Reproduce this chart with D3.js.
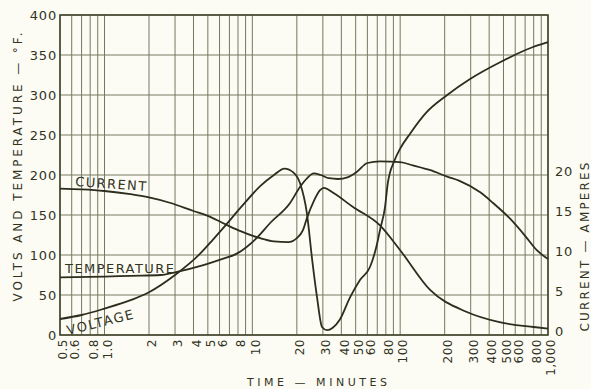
<!DOCTYPE html>
<html>
<head>
<meta charset="utf-8">
<script src="https://cdn.jsdelivr.net/npm/d3@7"></script>
<style>
  body { margin: 0; background: #fcfcf4; }
  svg { display: block; }
  text { font-family: "DejaVu Sans", sans-serif; fill: #33341f; }
</style>
</head>
<body>
<svg></svg>
<script>
//Canvas settings
var width = 591;
var height = 389;
var plotL = 60, plotR = 548, plotT = 15, plotB = 335;

//Time grid and labels (minutes, log scale)
var gridTimes = [0.5, 0.6, 0.7, 0.8, 0.9, 1, 2, 3, 4, 5, 6, 7, 8, 9, 10,
  20, 30, 40, 50, 60, 70, 80, 90, 100, 200, 300, 400, 500, 600, 700, 800, 900, 1000];
var labelTimes = [0.5, 0.6, 0.8, 1, 2, 3, 4, 5, 6, 8, 10, 20, 30, 40, 50, 60, 80, 100,
  200, 300, 400, 500, 600, 800, 1000];
var labelTexts = ["0.5", "0.6", "0.8", "1.0", "2", "3", "4", "5", "6", "8", "10", "20", "30",
  "40", "50", "60", "80", "100", "200", "300", "400", "500", "600", "800", "1,000"];

//Left axis (volts / deg F) and right axis (amperes)
var leftTicks = [0, 50, 100, 150, 200, 250, 300, 350, 400];
var ampTicks = [0, 5, 10, 15, 20];

//Current, in amperes
var currentTime = [0.5, 0.7, 1, 1.5, 2, 2.8, 4, 5, 6.3, 8, 11.3, 14, 17.5, 20, 22, 23.5, 26, 28.7, 30.5,
  35, 48, 73, 100, 160, 280, 470, 800, 1000];
var currentAmps = [18.3, 18.2, 18.0, 17.6, 17.2, 16.5, 15.5, 14.9, 14.0, 13.1, 12.1, 11.7, 11.6, 12.1, 13.1,
  14.7, 16.7, 18.1, 18.4, 17.8, 16.0, 13.7, 10.6, 5.6, 2.9, 1.6, 1.0, 0.8];

//Temperature, deg F
var tempTime = [0.5, 1, 1.5, 2.4, 3.1, 4.6, 6, 7.9, 10.8, 13.2, 18, 21, 23.5, 26, 29, 33, 38, 44, 51, 60,
  73, 100, 122, 160, 208, 250, 350, 425, 550, 700, 840, 1000];
var tempValues = [72, 73, 74, 75, 79, 87, 94, 102, 122, 140, 165, 185, 196, 202, 200, 196, 195, 197, 204, 215,
  217, 216, 212, 206, 198, 193, 178, 165, 146, 124, 106, 95];

//Voltage
var voltTime = [0.5, 0.7, 1, 1.5, 2, 3, 4.4, 5.4, 6.3, 8.5, 11.3, 14, 16.5, 19, 21, 23.4, 25.4, 27.4, 29.6, 32, 35,
  39, 45.8, 53.6, 62.5, 70, 73, 79, 82.5, 92, 100, 117, 150, 208, 297, 474, 793, 1000];
var voltValues = [20, 25, 33, 43.5, 53.5, 75, 101, 119, 133, 161, 186, 200, 208, 203, 190, 152, 94, 47, 10, 6, 9,
  19, 47, 69, 85, 115, 131, 160, 190, 219, 233, 252, 278, 300, 320, 341, 360, 366];

var canvas = d3.select("svg")
  .attr("width", width)
  .attr("height", height);

canvas.append("rect")
  .attr("width", width).attr("height", height)
  .attr("fill", "#fcfcf4");

var x = d3.scaleLog().domain([0.5, 1000]).range([plotL, plotR]);
var y = d3.scaleLinear().domain([0, 400]).range([plotB, plotT]);
var yAmp = d3.scaleLinear().domain([0, 20]).range([plotB, y(200)]);

//grid
canvas.append("g").selectAll("line")
  .data(gridTimes)
  .enter().append("line")
  .attr("x1", function(d) { return x(d); })
  .attr("x2", function(d) { return x(d); })
  .attr("y1", plotT).attr("y2", plotB)
  .attr("stroke", "#77785f").attr("stroke-width", 1);

canvas.append("g").selectAll("line")
  .data(leftTicks)
  .enter().append("line")
  .attr("x1", plotL).attr("x2", plotR)
  .attr("y1", function(d) { return y(d); })
  .attr("y2", function(d) { return y(d); })
  .attr("stroke", "#77785f").attr("stroke-width", 1);

canvas.append("rect")
  .attr("x", plotL).attr("y", plotT)
  .attr("width", plotR - plotL).attr("height", plotB - plotT)
  .attr("fill", "none").attr("stroke", "#45462f").attr("stroke-width", 1.6);

//left tick labels
canvas.append("g").selectAll("text")
  .data(leftTicks)
  .enter().append("text")
  .attr("x", plotL - 3)
  .attr("y", function(d) { return y(d); })
  .attr("dy", "0.36em")
  .attr("text-anchor", "end")
  .attr("font-size", 13)
  .attr("letter-spacing", 0.8)
  .text(function(d) { return d; });

//right tick labels
canvas.append("g").selectAll("text")
  .data(ampTicks)
  .enter().append("text")
  .attr("x", plotR + 7)
  .attr("y", function(d) { return yAmp(d) - 4; })
  .attr("dy", "0.36em")
  .attr("text-anchor", "start")
  .attr("font-size", 13)
  .attr("letter-spacing", 0.8)
  .text(function(d) { return d; });

//time labels, rotated
canvas.append("g").selectAll("text")
  .data(labelTimes)
  .enter().append("text")
  .attr("transform", function(d) { return "translate(" + (x(d) + 3) + "," + (plotB + 4) + ") rotate(-90)"; })
  .attr("dy", "0.36em")
  .attr("text-anchor", "end")
  .attr("font-size", 12)
  .attr("letter-spacing", 0.5)
  .text(function(d, i) { return labelTexts[i]; });

//axis titles
canvas.append("text")
  .attr("transform", "translate(18,167) rotate(-90)")
  .attr("dy", "0.36em")
  .attr("text-anchor", "middle")
  .attr("font-size", 12)
  .attr("textLength", 269).attr("lengthAdjust", "spacing")
  .text("VOLTS AND TEMPERATURE — °F.");

canvas.append("text")
  .attr("transform", "translate(585,247) rotate(-90)")
  .attr("dy", "0.36em")
  .attr("text-anchor", "middle")
  .attr("font-size", 12)
  .attr("textLength", 169).attr("lengthAdjust", "spacing")
  .text("CURRENT — AMPERES");

canvas.append("text")
  .attr("x", 317).attr("y", 386)
  .attr("text-anchor", "middle")
  .attr("font-size", 11)
  .attr("textLength", 140).attr("lengthAdjust", "spacing")
  .text("TIME — MINUTES");

//curves
function drawCurve(times, values, scale) {
  var pts = times.map(function(t, i) { return [x(t), scale(values[i])]; });
  canvas.append("path")
    .attr("d", d3.line().curve(d3.curveMonotoneX)(pts))
    .attr("fill", "none")
    .attr("stroke", "#2c2d1c")
    .attr("stroke-width", 1.8);
}
drawCurve(currentTime, currentAmps, yAmp);
drawCurve(tempTime, tempValues, y);
drawCurve(voltTime, voltValues, y);

//curve labels
canvas.append("text")
  .attr("transform", "translate(75,186) rotate(4)")
  .attr("font-size", 13)
  .attr("textLength", 71).attr("lengthAdjust", "spacing")
  .text("CURRENT");

canvas.append("text")
  .attr("x", 65).attr("y", 273)
  .attr("font-size", 13)
  .attr("textLength", 109).attr("lengthAdjust", "spacing")
  .text("TEMPERATURE");

canvas.append("text")
  .attr("transform", "translate(68,335) rotate(-14)")
  .attr("font-size", 13)
  .attr("textLength", 68).attr("lengthAdjust", "spacing")
  .text("VOLTAGE");
</script>
</body>
</html>
